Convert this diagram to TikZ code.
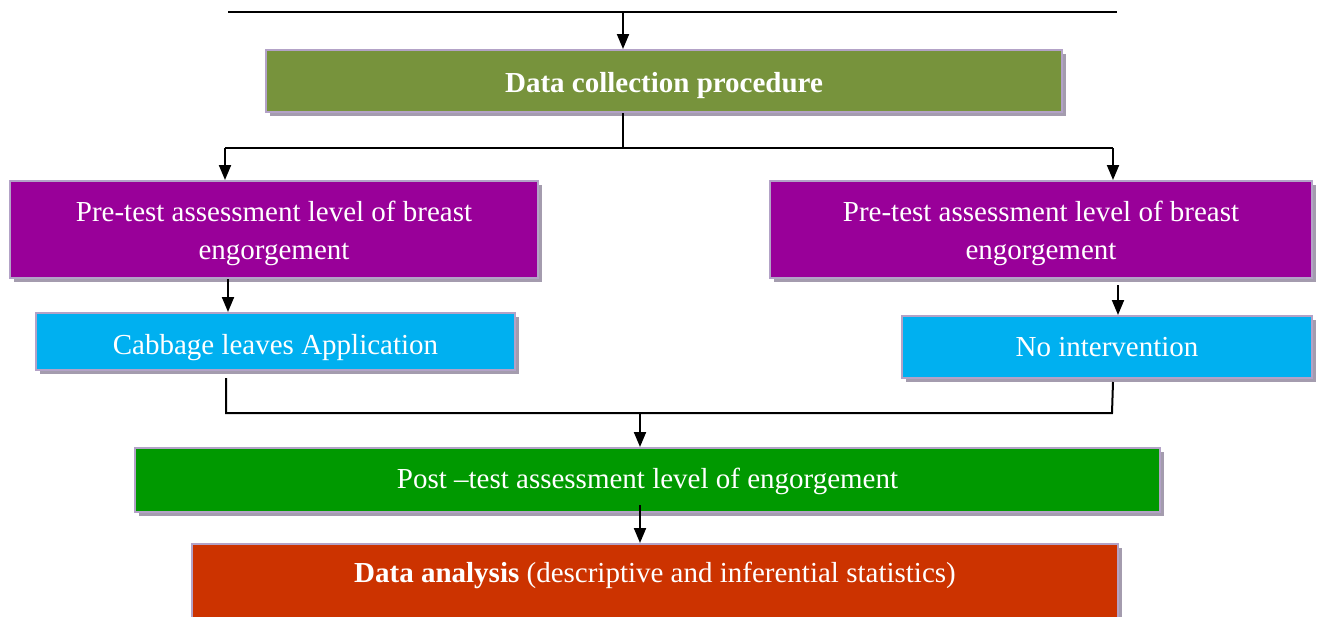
\documentclass[tikz,border=0pt]{standalone}
\usepackage{fontspec}
\setmainfont{Liberation Serif}
\usetikzlibrary{arrows.meta,shadows}
\definecolor{olivebox}{HTML}{77933C}
\definecolor{purplebox}{HTML}{990099}
\definecolor{cyanbox}{HTML}{00B0F0}
\definecolor{greenbox}{HTML}{009900}
\definecolor{redbox}{HTML}{CC3300}
\definecolor{edgecol}{HTML}{B3A2C7}
\definecolor{shadowcol}{HTML}{A49CAE}
\tikzset{
  box/.style={draw=edgecol, line width=2pt, text=white, align=center,
    inner sep=0pt, font=\fontsize{29}{38}\selectfont,
    drop shadow={shadow xshift=4pt, shadow yshift=-4pt, fill=shadowcol, opacity=1}},
  conn/.style={line width=2pt, black},
  arr/.style={conn, -{Triangle[length=15pt,width=12pt]}}
}
\newcommand{\lowered}[2]{\raisebox{-#1}[0pt][0pt]{#2}}
\begin{document}
\begin{tikzpicture}[x=1pt,y=-1pt]
\useasboundingbox (0,0) rectangle (1317,616);
% boxes
\node[box, fill=olivebox, minimum width=796pt, minimum height=62pt] (dc) at (664,81) {\lowered{11pt}{\textbf{Data collection procedure}}};
\node[box, fill=purplebox, minimum width=528pt, minimum height=97pt] (pl) at (274,229.5) {\lowered{10pt}{\begin{tabular}{@{}c@{}}Pre-test assessment level of breast\\engorgement\end{tabular}}};
\node[box, fill=purplebox, minimum width=542pt, minimum height=97pt] (pr) at (1041,229.5) {\lowered{10pt}{\begin{tabular}{@{}c@{}}Pre-test assessment level of breast\\engorgement\end{tabular}}};
\node[box, fill=cyanbox, minimum width=479pt, minimum height=57pt] (cab) at (275.5,341.5) {\lowered{13pt}{Cabbage leaves Application}};
\node[box, fill=cyanbox, minimum width=410pt, minimum height=62pt] (noi) at (1107,347) {No intervention};
\node[box, fill=greenbox, minimum width=1025pt, minimum height=64pt] (post) at (647.5,480) {\lowered{8pt}{Post --test assessment level of engorgement}};
\node[box, fill=redbox, minimum width=926pt, minimum height=80pt] (da) at (655,584) {\lowered{-2pt}{\textbf{Data analysis} (descriptive and inferential statistics)}};
% coordinates
\coordinate (tl) at (228,12);
\coordinate (tr) at (1117,12);
\coordinate (t0) at (623,12);
\coordinate (j1) at (623,148);
\coordinate (jl) at (225,148);
\coordinate (jr) at (1113,148);
\coordinate (al) at (228,278);
\coordinate (ar) at (1118,285);
\coordinate (bl) at (226,378);
\coordinate (bl2) at (226,413);
\coordinate (br) at (1113,382);
\coordinate (br2) at (1112,413);
\coordinate (j2) at (640,413);
\coordinate (p0) at (640,505);
% connectors
\draw[conn] (tl) -- (tr);
\draw[arr] (t0) -- (t0 |- dc.north);
\draw[conn] (j1 |- dc.south) -- (j1);
\draw[conn] (jl) -- (jr);
\draw[arr] (jl) -- (jl |- pl.north);
\draw[arr] (jr) -- (jr |- pr.north);
\draw[arr] (al |- pl.south) -- (al |- cab.north);
\draw[arr] (ar) -- (ar |- noi.north);
\draw[conn] (bl) -- (bl2) -- (br2) -- (br);
\draw[arr] (j2) -- (j2 |- post.north);
\draw[arr] (p0) -- (p0 |- da.north);
\end{tikzpicture}
\end{document}
